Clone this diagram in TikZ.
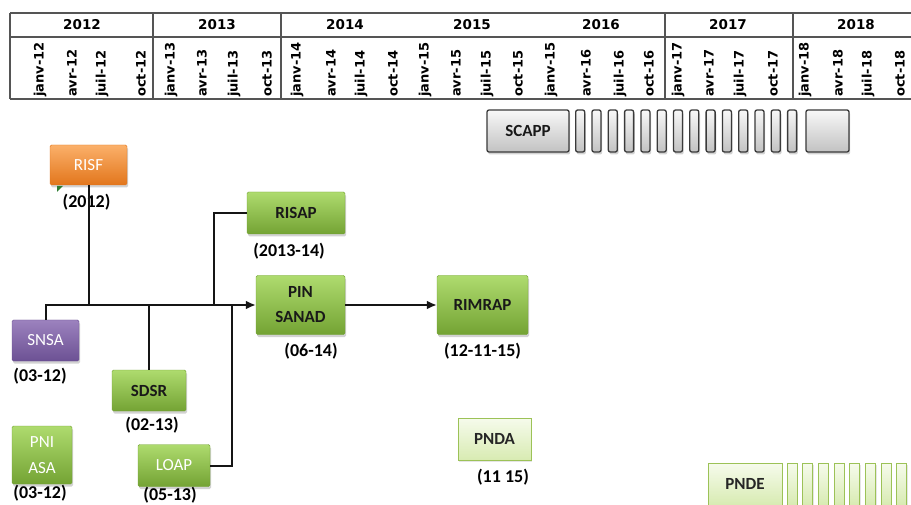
\documentclass[tikz,border=0pt]{standalone}
\usepackage{fontspec}
\setmainfont{Carlito}
\newfontfamily\headfont{DejaVu Sans}
\usepackage{tikz}
\usetikzlibrary{arrows.meta,calc,positioning,shadows}
\definecolor{planGreenTop}{HTML}{AEDB6E}
\definecolor{planGreenDark}{HTML}{74A334}
\definecolor{planOrangeTop}{HTML}{FBB06A}
\definecolor{planOrangeDark}{HTML}{E2761C}
\definecolor{planPurpleTop}{HTML}{9C82BE}
\definecolor{planPurpleDark}{HTML}{6C5194}
\definecolor{planPaleTop}{HTML}{F6FBEC}
\definecolor{planPaleDark}{HTML}{D8EBB2}
\definecolor{planPaleLine}{HTML}{9CC257}
\definecolor{planGrayTop}{HTML}{F8F8F8}
\definecolor{planGrayDark}{HTML}{C2C2C2}
\definecolor{planGrayLine}{HTML}{3A3A3A}
\definecolor{planLine}{HTML}{151515}
\definecolor{planGrid}{HTML}{555555}
\definecolor{planMark}{HTML}{2E7D32}
\tikzset{
  base box/.style={rectangle, rounded corners=1.5pt, inner sep=0pt,
    align=center, drop shadow={shadow xshift=1.2pt, shadow yshift=-2.5pt,
    opacity=0.35}},
  green box/.style={base box, top color=planGreenTop,
    bottom color=planGreenDark, draw=planGreenDark,
    font=\fontsize{17}{25}\selectfont\bfseries, text=black!90},
  soft green box/.style={green box, font=\fontsize{17}{26}\selectfont,
    text=white},
  orange box/.style={base box, top color=planOrangeTop,
    bottom color=planOrangeDark, draw=planOrangeDark,
    font=\fontsize{17}{20}\selectfont, text=white},
  purple box/.style={base box, top color=planPurpleTop,
    bottom color=planPurpleDark, draw=planPurpleDark,
    font=\fontsize{17}{20}\selectfont, text=white},
  pale box/.style={rectangle, inner sep=0pt, top color=planPaleTop,
    bottom color=planPaleDark, draw=planPaleLine, line width=1pt,
    drop shadow={shadow xshift=1pt, shadow yshift=-2pt, opacity=0.2},
    font=\fontsize{17}{20}\selectfont\bfseries, text=black!85},
  pale strip/.style={pale box, minimum width=10pt, minimum height=42pt},
  gray box/.style={base box, rounded corners=2pt, top color=planGrayTop,
    bottom color=planGrayDark, draw=planGrayLine, line width=1.3pt,
    font=\fontsize{17}{20}\selectfont\bfseries, text=black!90},
  gray strip/.style={gray box, minimum width=9pt, minimum height=42pt},
  date label/.style={font=\fontsize{18}{20}\selectfont\bfseries,
    inner sep=0pt},
  year label/.style={font=\headfont\fontsize{13.5}{15}\selectfont\bfseries,
    inner sep=0pt},
  month label/.style={font=\headfont\fontsize{13}{14}\selectfont\bfseries,
    rotate=90, anchor=west, inner sep=0pt},
  grid rule/.style={draw=planGrid, line width=1.3pt},
  feed/.style={draw=planLine, line width=2pt},
  flow/.style={feed, -{Latex[length=10pt,width=9pt]}}
}

\begin{document}
\begin{tikzpicture}[x=1pt, y=-1pt]
  \useasboundingbox (0,0) rectangle (911,505);
  \clip (0,0) rectangle (911,505);
  \fill[white] (0,0) rectangle (911,505);

  % timeline header
  \draw[grid rule] (10,13) -- (920,13);
  \draw[grid rule] (10,37) -- (920,37);
  \draw[grid rule] (10,99) -- (920,99);
  \foreach \gx in {10,153,281,665,793}
    \draw[grid rule] (\gx,13) -- (\gx,99);
  \foreach \yr/\yx in {2012/82,2013/217,2014/345,2015/472,2016/601,
      2017/728,2018/856}
    \node[year label] (year\yr) at (\yx,25) {\yr};
  \foreach \mo/\mx [count=\i] in {janv-12/40,avr-12/72,juil-12/102,
      oct-12/141,janv-13/171,avr-13/202,juil-13/234,oct-13/267,
      janv-14/297,avr-14/331,juil-14/361,oct-14/393,janv-15/425,
      avr-15/456,juil-15/487,oct-15/518,janv-15/551,avr-16/586,
      juil-16/620,oct-16/649,janv-17/678,avr-17/709,juil-17/740,
      oct-17/773,janv-18/805,avr-18/838,juil-18/868,oct-18/900}
    \node[month label] (month\i) at (\mx,97) {\mo};

  % programmes
  \node[gray box, minimum width=82pt, minimum height=42pt] (scapp)
    at (528,131) {SCAPP};
  \foreach \k in {0,...,13}
    \node[gray strip] (scapp\k) at ({580.2+16.3*\k},131) {};
  \node[gray box, minimum width=43pt, minimum height=42pt] (scappend)
    at (827.5,131) {};

  \node[orange box, minimum width=77pt, minimum height=40pt] (risf)
    at (88.5,165) {RISF};
  \node[green box, minimum width=98pt, minimum height=42pt] (risap)
    at (296,213) {RISAP};
  \node[green box, minimum width=89pt, minimum height=59pt] (pinsanad)
    at (300.5,305) {PIN\\SANAD};
  \node[green box, minimum width=91pt, minimum height=59pt] (rimrap)
    at (482.5,305) {RIMRAP};
  \node[purple box, minimum width=67pt, minimum height=41pt] (snsa)
    at (45.5,340.5) {SNSA};
  \node[green box, minimum width=74pt, minimum height=41pt] (sdsr)
    at (149,390.5) {SDSR};
  \node[soft green box, minimum width=60pt, minimum height=58pt] (pniasa)
    at (42,455) {PNI\\ASA};
  \node[soft green box, minimum width=72pt, minimum height=42pt] (loap)
    at (174,465.5) {LOAP};
  \node[pale box, minimum width=73pt, minimum height=42pt] (pnda)
    at (494.5,439) {PNDA};
  \node[pale box, minimum width=74pt, minimum height=42pt] (pnde)
    at (745,484) {PNDE};
  \foreach \k in {0,...,7}
    \node[pale strip] (pnde\k) at ({792+15.7*\k},484) {};

  \fill[planMark] (57,186) -- (63,186) -- (57,192) -- cycle;

  % dates
  \node[date label, below=8.5pt of risf, xshift=-2pt] (risfdate) {(2012)};
  \node[date label, below=8.5pt of risap, xshift=-7pt] (risapdate)
    {(2013-14)};
  \node[date label, below=8.5pt of pinsanad, xshift=10.5pt] (pinsanaddate)
    {(06-14)};
  \node[date label, below=8pt of rimrap] (rimrapdate) {(12-11-15)};
  \node[date label, below=6.5pt of snsa, xshift=-5.5pt] (snsadate)
    {(03-12)};
  \node[date label, below=5.5pt of sdsr, xshift=3pt] (sdsrdate) {(02-13)};
  \node[date label, below=1pt of pniasa, xshift=-2pt] (pniasadate)
    {(03-12)};
  \node[date label, below=0.5pt of loap, xshift=-4pt] (loapdate) {(05-13)};
  \node[date label, below=8.5pt of pnda, xshift=8.5pt] (pndadate)
    {(11 15)};

  % links
  \coordinate (risapdrop) at (214,305);
  \coordinate (loaprise) at (232,305);
  \draw[feed] (risf.south) -- (risf.south |- pinsanad.west);
  \draw[feed] (sdsr.north) -- (sdsr.north |- pinsanad.west);
  \draw[feed] (risap.west) -| (risapdrop);
  \draw[feed] (loap.east) -| (loaprise);
  \draw[flow] (snsa.north) |- (pinsanad.west);
  \draw[flow] (pinsanad.east) -- (rimrap.west);
\end{tikzpicture}
\end{document}
